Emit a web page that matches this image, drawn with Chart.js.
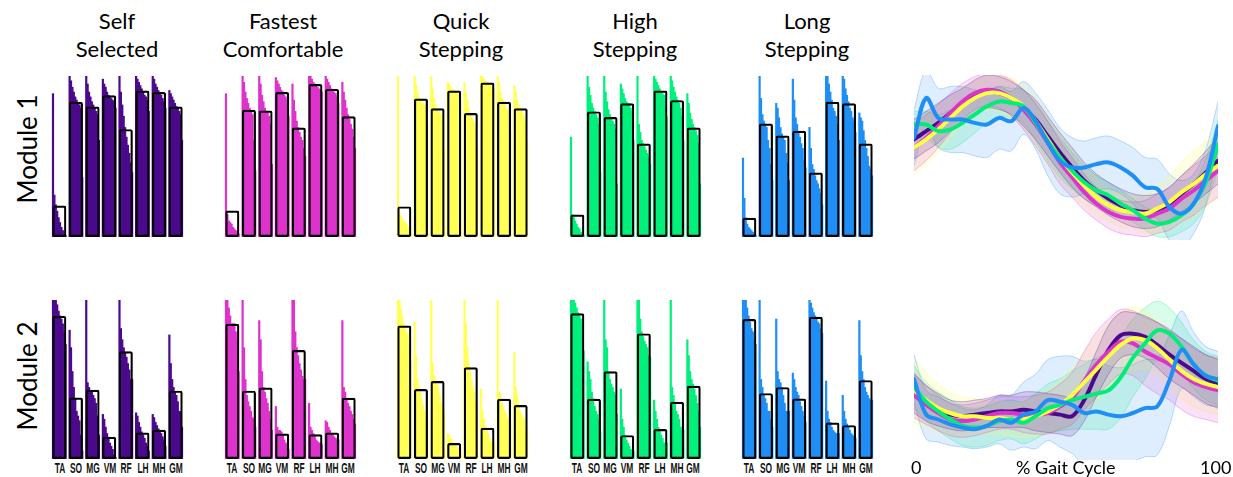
<!DOCTYPE html>
<html>
<head>
<meta charset="utf-8">
<script src="https://cdn.jsdelivr.net/npm/chart.js@4.4.1/dist/chart.umd.min.js"></script>
<style>
  html, body { margin:0; padding:0; background:#fff; width:1233px; height:477px; overflow:hidden; }
  #root { position:relative; width:1233px; height:477px; }
  .box { position:absolute; }
  .title { position:absolute; width:200px; text-align:center; font-family:Lato, 'Open Sans', sans-serif; font-size:22px; line-height:28px; color:#000; }
  .mod { position:absolute; font-family:Lato, 'Open Sans', sans-serif; font-size:26px; color:#000; white-space:nowrap; transform:translate(-50%,-50%) rotate(-90deg); }
  .gl { position:absolute; font-family:Lato, 'Open Sans', sans-serif; font-size:18px; color:#000; white-space:nowrap; }
  .tk { position:absolute; width:40px; text-align:center; font-family:'Liberation Sans', Arial, sans-serif; font-weight:700; font-size:14px; line-height:15px; color:#111; white-space:nowrap; transform:scaleX(0.6); transform-origin:50% 0; }
</style>
</head>
<body>
<div id="root"></div>
<script>
// ---------- categories / labels ----------
const muscles = ['TA','SO','MG','VM','RF','LH','MH','GM'];
const conditions = [['Self','Selected'],['Fastest','Comfortable'],['Quick','Stepping'],['High','Stepping'],['Long','Stepping']];
const moduleLabels = ['Module 1','Module 2'];
const condColors = ['#4b0a8c','#dd33cc','#ffff55','#00f07c','#1f8ef5'];
const lineColors = ['#4b0a8c','#dd33cc','#ffff44','#00ee78','#1f8ef5'];

// ---------- Module 1 subject weights (sorted per muscle) ----------
const m1Self = [
 [0.89,0.26,0.20,0.16,0.12,0.09,0.06,0.04,0.02,0.01],
 [1.00,0.97,0.93,0.90,0.87,0.85,0.83,0.82,0.80,0.37],
 [1.00,0.95,0.90,0.87,0.84,0.82,0.80,0.78,0.76,0.60],
 [0.98,0.95,0.93,0.90,0.88,0.87,0.86,0.85,0.84,0.80],
 [1.00,0.90,0.82,0.75,0.68,0.62,0.57,0.52,0.46,0.40],
 [1.00,0.98,0.96,0.94,0.92,0.90,0.88,0.87,0.85,0.78],
 [1.00,0.98,0.95,0.93,0.91,0.89,0.88,0.86,0.84,0.80],
 [0.91,0.89,0.87,0.85,0.83,0.81,0.80,0.78,0.76,0.60]
];
const m1SelfMean = [0.195,0.84,0.81,0.88,0.67,0.91,0.90,0.81];

const m1Fast = [
 [0.89,0.14,0.10,0.09,0.08,0.06,0.05,0.04,0.03,0.02],
 [1.00,0.96,0.90,0.86,0.83,0.80,0.78,0.76,0.60,0.41],
 [1.00,0.95,0.88,0.84,0.80,0.78,0.77,0.75,0.70,0.45],
 [0.99,0.97,0.95,0.93,0.91,0.90,0.88,0.87,0.85,0.75],
 [0.95,0.85,0.78,0.72,0.68,0.65,0.62,0.60,0.55,0.50],
 [1.00,1.00,0.98,0.96,0.95,0.94,0.93,0.92,0.91,0.90],
 [1.00,0.98,0.96,0.94,0.92,0.91,0.90,0.89,0.87,0.83],
 [0.96,0.90,0.85,0.80,0.76,0.73,0.70,0.67,0.62,0.55]
];
const m1FastMean = [0.165,0.79,0.785,0.90,0.68,0.95,0.92,0.75];

const m1Quick = [
 [1.00,0.15,0.13,0.11,0.10,0.09,0.08,0.06,0.05,0.03],
 [1.00,0.95,0.90,0.87,0.85,0.84,0.83,0.82,0.81,0.70],
 [1.00,0.92,0.86,0.82,0.80,0.78,0.77,0.76,0.75,0.55],
 [0.96,0.95,0.93,0.92,0.91,0.90,0.90,0.89,0.88,0.86],
 [0.96,0.90,0.85,0.80,0.77,0.75,0.73,0.71,0.68,0.55],
 [1.00,1.00,0.98,0.97,0.96,0.95,0.95,0.94,0.93,0.92],
 [1.00,0.96,0.90,0.86,0.84,0.82,0.80,0.79,0.78,0.65],
 [0.94,0.90,0.85,0.82,0.80,0.78,0.77,0.75,0.72,0.60]
];
const m1QuickMean = [0.19,0.86,0.80,0.91,0.77,0.96,0.84,0.80];

const m1High = [
 [0.62,0.14,0.12,0.10,0.08,0.06,0.05,0.03,0.02,0.01],
 [1.00,0.93,0.88,0.83,0.80,0.78,0.76,0.74,0.70,0.40],
 [1.00,0.90,0.84,0.79,0.76,0.74,0.72,0.70,0.67,0.33],
 [0.95,0.92,0.89,0.86,0.84,0.83,0.82,0.80,0.78,0.60],
 [1.00,0.70,0.65,0.60,0.58,0.56,0.54,0.52,0.50,0.45],
 [1.00,0.98,0.96,0.94,0.92,0.90,0.89,0.88,0.86,0.75],
 [1.00,0.97,0.93,0.90,0.87,0.85,0.83,0.80,0.75,0.60],
 [0.89,0.83,0.77,0.73,0.70,0.68,0.66,0.63,0.58,0.33]
];
const m1HighMean = [0.14,0.78,0.745,0.83,0.58,0.91,0.85,0.68];

const m1Long = [
 [0.49,0.24,0.12,0.08,0.06,0.05,0.04,0.03,0.02,0.01],
 [1.00,0.86,0.76,0.72,0.70,0.68,0.60,0.55,0.45,0.35],
 [0.83,0.80,0.74,0.68,0.64,0.62,0.60,0.52,0.46,0.35],
 [0.98,0.85,0.74,0.70,0.65,0.62,0.58,0.55,0.48,0.43],
 [0.68,0.55,0.45,0.42,0.38,0.35,0.33,0.30,0.27,0.20],
 [1.00,1.00,0.95,0.90,0.85,0.80,0.78,0.75,0.70,0.60],
 [1.00,0.98,0.92,0.88,0.84,0.80,0.78,0.74,0.72,0.65],
 [0.77,0.74,0.72,0.66,0.60,0.55,0.50,0.44,0.42,0.38]
];
const m1LongMean = [0.12,0.705,0.63,0.66,0.40,0.84,0.83,0.58];

// ---------- Module 2 subject weights ----------
const m2Self = [
 [1.00,1.00,1.00,0.97,0.93,0.90,0.88,0.85,0.80,0.72],
 [0.81,0.70,0.55,0.45,0.38,0.30,0.27,0.24,0.15,0.05],
 [1.00,0.48,0.45,0.43,0.42,0.40,0.38,0.35,0.27,0.15],
 [0.28,0.25,0.20,0.16,0.13,0.10,0.08,0.06,0.03,0.01],
 [1.00,0.82,0.75,0.70,0.67,0.64,0.60,0.56,0.50,0.50],
 [0.29,0.27,0.23,0.20,0.17,0.15,0.13,0.10,0.08,0.05],
 [0.28,0.26,0.23,0.21,0.19,0.17,0.16,0.14,0.12,0.08],
 [0.78,0.60,0.50,0.45,0.42,0.40,0.36,0.30,0.30,0.20]
];
const m2SelfMean = [0.90,0.387,0.435,0.14,0.678,0.167,0.184,0.43];

const m2Fast = [
 [1.00,1.00,0.95,0.90,0.85,0.85,0.85,0.80,0.75,0.55],
 [1.00,0.70,0.50,0.40,0.36,0.33,0.30,0.26,0.25,0.20],
 [0.87,0.75,0.55,0.45,0.42,0.38,0.35,0.30,0.25,0.18],
 [0.33,0.20,0.18,0.18,0.17,0.15,0.12,0.10,0.09,0.06],
 [1.00,1.00,0.80,0.70,0.65,0.60,0.56,0.52,0.50,0.50],
 [0.35,0.20,0.18,0.16,0.14,0.12,0.11,0.10,0.10,0.09],
 [0.24,0.23,0.20,0.18,0.16,0.15,0.14,0.13,0.12,0.12],
 [0.87,0.45,0.42,0.38,0.35,0.33,0.30,0.28,0.25,0.22]
];
const m2FastMean = [0.85,0.43,0.45,0.16,0.686,0.155,0.167,0.385];

const m2Quick = [
 [1.00,1.00,0.95,0.90,0.85,0.82,0.80,0.78,0.70,0.60],
 [0.86,0.65,0.50,0.45,0.42,0.38,0.34,0.30,0.25,0.25],
 [1.00,0.60,0.52,0.50,0.47,0.45,0.40,0.35,0.32,0.29],
 [0.16,0.15,0.13,0.12,0.10,0.09,0.08,0.07,0.06,0.04],
 [1.00,0.85,0.70,0.60,0.55,0.50,0.45,0.42,0.37,0.33],
 [0.44,0.30,0.25,0.20,0.18,0.16,0.12,0.11,0.10,0.10],
 [1.00,0.42,0.40,0.35,0.32,0.30,0.28,0.25,0.25,0.22],
 [0.67,0.45,0.40,0.35,0.30,0.28,0.26,0.25,0.20,0.20]
];
const m2QuickMean = [0.84,0.44,0.49,0.10,0.577,0.197,0.379,0.339];

const m2High = [
 [1.00,1.00,1.00,0.98,0.95,0.92,0.90,0.88,0.85,0.68],
 [0.61,0.55,0.50,0.42,0.38,0.33,0.30,0.28,0.25,0.17],
 [1.00,0.75,0.70,0.55,0.50,0.47,0.45,0.42,0.40,0.28],
 [0.44,0.25,0.20,0.15,0.12,0.10,0.08,0.06,0.05,0.05],
 [1.00,1.00,0.88,0.80,0.77,0.74,0.72,0.70,0.65,0.64],
 [0.37,0.30,0.25,0.20,0.18,0.15,0.13,0.10,0.10,0.10],
 [1.00,0.45,0.40,0.35,0.30,0.28,0.25,0.20,0.18,0.18],
 [0.75,0.65,0.55,0.50,0.47,0.44,0.40,0.35,0.30,0.20]
];
const m2HighMean = [0.916,0.379,0.552,0.15,0.79,0.188,0.36,0.46];

const m2Long = [
 [1.00,1.00,1.00,0.95,0.90,0.86,0.82,0.80,0.75,0.72],
 [1.00,0.50,0.45,0.40,0.38,0.35,0.30,0.30,0.25,0.20],
 [0.88,0.55,0.50,0.48,0.45,0.40,0.35,0.30,0.30,0.30],
 [0.54,0.50,0.45,0.42,0.40,0.36,0.33,0.30,0.27,0.23],
 [1.00,0.98,0.95,0.92,0.90,0.88,0.86,0.85,0.82,0.79],
 [0.49,0.30,0.25,0.23,0.20,0.18,0.17,0.16,0.16,0.16],
 [0.40,0.30,0.25,0.22,0.20,0.18,0.16,0.15,0.14,0.13],
 [0.87,0.65,0.55,0.50,0.45,0.42,0.40,0.38,0.37,0.37]
];
const m2LongMean = [0.88,0.414,0.452,0.38,0.895,0.23,0.213,0.496];

// ---------- activation coefficients over the gait cycle ----------
const gaitPct = [0,4,8,12,16,20,24,28,32,36,40,44,48,52,56,60,64,68,72,76,80,84,88,92,96,100];

const m1SelfCurve  = [0.61,0.66,0.71,0.77,0.82,0.87,0.90,0.89,0.86,0.80,0.73,0.63,0.53,0.44,0.36,0.30,0.25,0.21,0.18,0.17,0.18,0.22,0.28,0.34,0.41,0.48];
const m1FastCurve  = [0.56,0.62,0.69,0.77,0.84,0.89,0.91,0.90,0.86,0.79,0.70,0.59,0.47,0.38,0.29,0.22,0.17,0.14,0.13,0.13,0.16,0.19,0.25,0.30,0.36,0.42];
const m1QuickCurve = [0.56,0.61,0.67,0.74,0.81,0.86,0.89,0.89,0.86,0.81,0.72,0.61,0.50,0.41,0.33,0.26,0.21,0.18,0.17,0.16,0.19,0.23,0.29,0.34,0.40,0.45];
const m1HighCurve  = [0.70,0.70,0.66,0.67,0.71,0.76,0.81,0.84,0.83,0.81,0.71,0.60,0.50,0.42,0.35,0.30,0.27,0.22,0.18,0.13,0.10,0.11,0.15,0.22,0.35,0.58];
const m1LongCurve  = [0.62,0.86,0.74,0.73,0.73,0.71,0.70,0.74,0.72,0.80,0.72,0.59,0.48,0.44,0.44,0.46,0.47,0.44,0.39,0.32,0.31,0.20,0.16,0.22,0.38,0.69];

const m1SelfSd  = [0.12,0.12,0.12,0.11,0.10,0.10,0.10,0.10,0.10,0.11,0.12,0.12,0.12,0.12,0.11,0.10,0.10,0.10,0.10,0.10,0.10,0.10,0.11,0.12,0.13,0.14];
const m1FastSd  = [0.14,0.14,0.13,0.12,0.11,0.10,0.10,0.10,0.11,0.12,0.13,0.13,0.13,0.12,0.11,0.10,0.10,0.10,0.10,0.11,0.12,0.13,0.14,0.15,0.15,0.16];
const m1QuickSd = [0.16,0.15,0.14,0.12,0.11,0.10,0.10,0.11,0.12,0.13,0.14,0.14,0.14,0.13,0.12,0.11,0.10,0.10,0.10,0.12,0.14,0.16,0.18,0.20,0.20,0.20];
const m1HighSd  = [0.08,0.08,0.10,0.12,0.12,0.11,0.10,0.09,0.09,0.10,0.11,0.12,0.12,0.11,0.10,0.09,0.08,0.08,0.07,0.07,0.08,0.09,0.10,0.12,0.14,0.15];
const m1LongSd  = [0.17,0.17,0.18,0.20,0.20,0.20,0.20,0.19,0.18,0.16,0.17,0.20,0.20,0.18,0.16,0.16,0.16,0.16,0.17,0.18,0.18,0.20,0.20,0.18,0.17,0.15];

const m2SelfCurve  = [0.41,0.35,0.31,0.28,0.27,0.28,0.29,0.30,0.30,0.31,0.30,0.29,0.28,0.27,0.37,0.53,0.68,0.77,0.78,0.76,0.71,0.65,0.60,0.55,0.50,0.47];
const m2FastCurve  = [0.40,0.34,0.29,0.25,0.24,0.25,0.27,0.29,0.29,0.28,0.28,0.29,0.33,0.38,0.49,0.59,0.67,0.73,0.72,0.67,0.63,0.59,0.53,0.48,0.45,0.43];
const m2QuickCurve = [0.43,0.37,0.32,0.29,0.27,0.27,0.26,0.26,0.25,0.25,0.27,0.30,0.34,0.40,0.48,0.56,0.64,0.71,0.75,0.74,0.69,0.62,0.55,0.50,0.47,0.45];
const m2HighCurve  = [0.45,0.36,0.30,0.25,0.21,0.20,0.21,0.24,0.25,0.23,0.27,0.32,0.34,0.37,0.39,0.41,0.43,0.51,0.63,0.72,0.80,0.78,0.70,0.59,0.52,0.49];
const m2LongCurve  = [0.50,0.28,0.25,0.22,0.20,0.19,0.21,0.25,0.23,0.28,0.30,0.37,0.36,0.34,0.29,0.30,0.28,0.27,0.29,0.32,0.33,0.49,0.68,0.59,0.52,0.50];

const m2SelfSd  = [0.12,0.11,0.10,0.09,0.09,0.09,0.09,0.10,0.10,0.11,0.12,0.12,0.12,0.12,0.13,0.14,0.15,0.14,0.13,0.13,0.14,0.15,0.15,0.15,0.15,0.15];
const m2FastSd  = [0.14,0.12,0.11,0.10,0.10,0.10,0.10,0.10,0.10,0.11,0.12,0.13,0.14,0.16,0.18,0.20,0.20,0.20,0.20,0.21,0.22,0.22,0.22,0.21,0.20,0.20];
const m2QuickSd = [0.20,0.17,0.15,0.13,0.12,0.11,0.10,0.10,0.10,0.11,0.12,0.13,0.15,0.17,0.19,0.20,0.20,0.20,0.19,0.18,0.17,0.17,0.17,0.17,0.17,0.17];
const m2HighSd  = [0.13,0.12,0.12,0.12,0.12,0.12,0.12,0.12,0.12,0.13,0.14,0.15,0.16,0.18,0.20,0.22,0.24,0.25,0.24,0.22,0.18,0.16,0.15,0.15,0.15,0.15];
const m2LongSd  = [0.15,0.15,0.14,0.13,0.12,0.12,0.13,0.15,0.17,0.20,0.23,0.25,0.28,0.30,0.32,0.32,0.30,0.30,0.30,0.30,0.30,0.28,0.24,0.20,0.18,0.17];

const gaitTicks = ['0','% Gait Cycle','100'];

// ---------- layout ----------
const root = document.getElementById('root');
const panelLefts = [51.4, 223.7, 396.0, 568.7, 741.0];
const panelW = 132.6;
const rowTops = [76, 300];
const rowPlotH = [161, 159.3];
const CP = 0.845;

function addCanvas(left, top, w, h) {
  const d = document.createElement('div');
  d.className = 'box';
  d.style.left = left + 'px'; d.style.top = top + 'px';
  d.style.width = w + 'px'; d.style.height = h + 'px';
  const c = document.createElement('canvas');
  c.width = Math.round(w); c.height = Math.round(h);
  c.style.width = Math.round(w) + 'px'; c.style.height = Math.round(h) + 'px';
  d.appendChild(c); root.appendChild(d);
  return c;
}

function rgba(hex, a) {
  const n = parseInt(hex.slice(1), 16);
  return `rgba(${(n>>16)&255},${(n>>8)&255},${n&255},${a})`;
}

const baseOpts = {
  animation:false, responsive:false, maintainAspectRatio:false, devicePixelRatio:1, events:[],
  layout:{padding:0},
  plugins:{legend:{display:false}, tooltip:{enabled:false}, title:{display:false}}
};

function barChart(canvas, subj, means, color) {
  const nSub = subj[0].length;
  const datasets = [{
    data: means, backgroundColor:'rgba(0,0,0,0)', borderColor:'#000', borderWidth:2.2,
    borderSkipped:false, borderRadius:2, grouped:false, order:0,
    categoryPercentage:CP, barPercentage:1, inflateAmount:0
  }];
  for (let i = 0; i < nSub; i++) {
    datasets.push({
      data: subj.map(a => a[i]), backgroundColor: color, borderWidth:0,
      categoryPercentage:CP, barPercentage:1, order:1, inflateAmount:0.4
    });
  }
  return new Chart(canvas, {
    type:'bar',
    data:{labels:muscles, datasets},
    options:Object.assign({}, baseOpts, {
      scales:{
        x:{display:false},
        y:{display:false, min:0, max:1}
      }
    })
  });
}

function lineChart(canvas, curves, sds) {
  const datasets = [];
  curves.forEach((c, k) => {
    const col = lineColors[k];
    datasets.push({ data: gaitPct.map((x,i)=>({x, y:c[i]+sds[k][i]})), borderColor:rgba(col,0.3), borderWidth:1,
      pointRadius:0, fill:false, tension:0.35, order:20+k });
    datasets.push({ data: gaitPct.map((x,i)=>({x, y:c[i]-sds[k][i]})), borderColor:rgba(col,0.3), borderWidth:1,
      pointRadius:0, fill:'-1', backgroundColor:rgba(col,0.15), tension:0.35, order:20+k });
  });
  curves.forEach((c, k) => {
    datasets.push({ data: gaitPct.map((x,i)=>({x, y:c[i]})), borderColor:lineColors[k], borderWidth:4,
      pointRadius:0, fill:false, tension:0.35, order:10-k, borderCapStyle:'round', borderJoinStyle:'round' });
  });
  new Chart(canvas, {
    type:'line',
    data:{datasets},
    options:Object.assign({}, baseOpts, {
      scales:{ x:{type:'linear', display:false, min:0, max:100}, y:{display:false, min:0, max:1} }
    })
  });
}

// ---------- titles ----------
const titleCenters = [117, 283, 461, 635, 807];
conditions.forEach((t, i) => {
  const d = document.createElement('div');
  d.className = 'title';
  d.style.left = (titleCenters[i] - 100) + 'px';
  d.style.top = '7px';
  d.innerHTML = t[0] + '<br>' + t[1];
  root.appendChild(d);
});
moduleLabels.forEach((t, i) => {
  const d = document.createElement('div');
  d.className = 'mod';
  d.style.left = '27px';
  d.style.top = (i === 0 ? 149 : 376) + 'px';
  d.textContent = t;
  root.appendChild(d);
});

// ---------- bar panels ----------
const rows = [
  [[m1Self,m1SelfMean],[m1Fast,m1FastMean],[m1Quick,m1QuickMean],[m1High,m1HighMean],[m1Long,m1LongMean]],
  [[m2Self,m2SelfMean],[m2Fast,m2FastMean],[m2Quick,m2QuickMean],[m2High,m2HighMean],[m2Long,m2LongMean]]
];
rows.forEach((row, r) => {
  row.forEach((p, i) => {
    const c = addCanvas(panelLefts[i], rowTops[r], panelW, rowPlotH[r]);
    const ch = barChart(c, p[0], p[1], condColors[i]);
    if (r === 1) {
      // muscle labels placed at the category scale's pixel for each muscle
      const xs = ch.scales.x;
      muscles.forEach((m, j) => {
        const d = document.createElement('div');
        d.className = 'tk';
        d.style.left = (panelLefts[i] + xs.getPixelForValue(j) - 20) + 'px';
        d.style.top = '461px';
        d.textContent = m;
        root.appendChild(d);
      });
    }
  });
});

// ---------- gait curves ----------
lineChart(addCanvas(914, 75, 304, 165),
  [m1SelfCurve,m1FastCurve,m1QuickCurve,m1HighCurve,m1LongCurve],
  [m1SelfSd,m1FastSd,m1QuickSd,m1HighSd,m1LongSd]);
lineChart(addCanvas(914, 298, 304, 162),
  [m2SelfCurve,m2FastCurve,m2QuickCurve,m2HighCurve,m2LongCurve],
  [m2SelfSd,m2FastSd,m2QuickSd,m2HighSd,m2LongSd]);

const gl = [[gaitTicks[0], 911], [gaitTicks[1], 1016], [gaitTicks[2], 1200]];
gl.forEach(([t, x]) => {
  const d = document.createElement('div');
  d.className = 'gl';
  d.style.left = x + 'px'; d.style.top = '456px';
  d.textContent = t;
  root.appendChild(d);
});
</script>
</body>
</html>
